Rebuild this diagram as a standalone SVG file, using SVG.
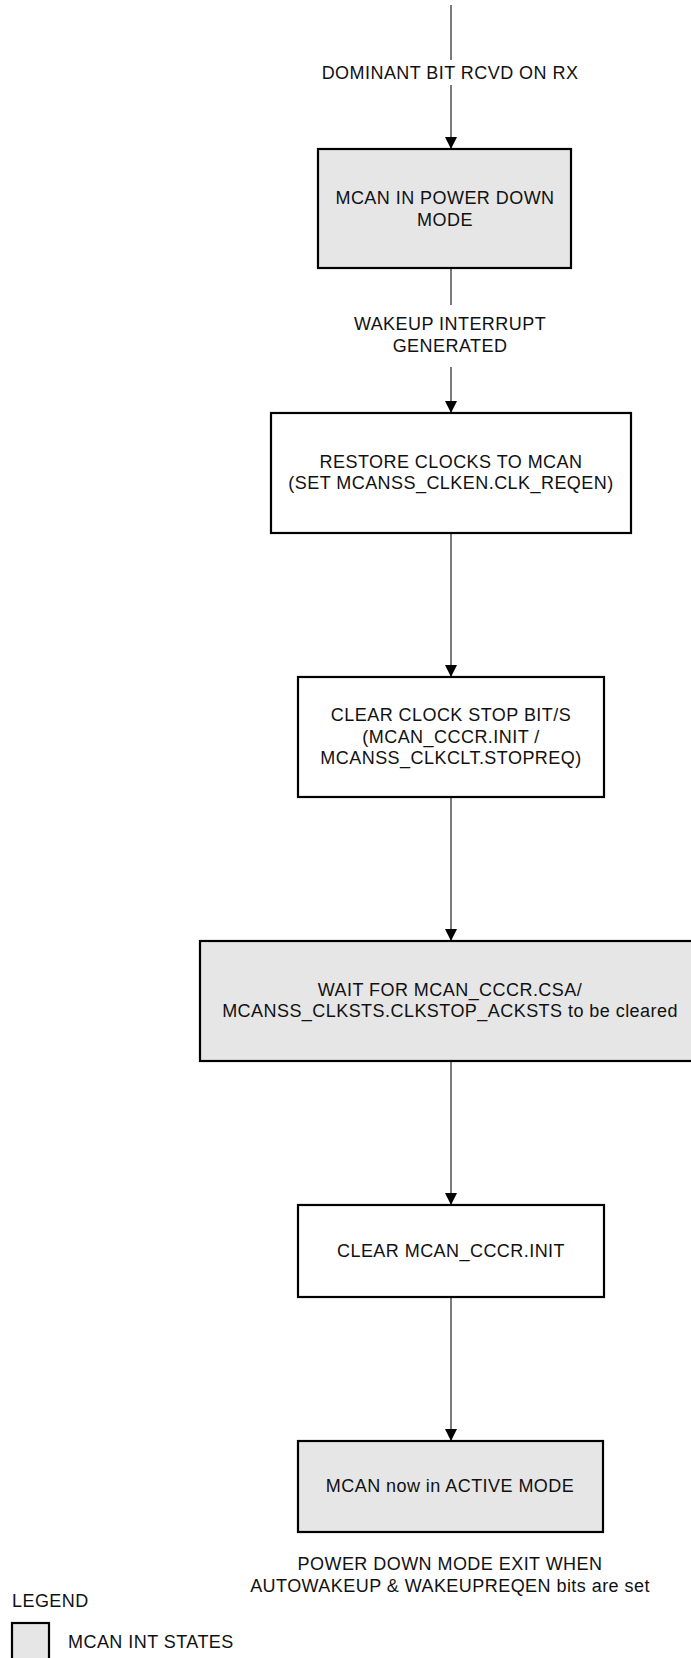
<svg xmlns="http://www.w3.org/2000/svg" width="691" height="1658" viewBox="0 0 691 1658">
<defs>
<style>
.box{stroke:#000;stroke-width:2.2}
.state{fill:#e6e6e6}
.step{fill:#fff}
.t{font-family:"Liberation Sans",Arial,sans-serif;font-size:18px;letter-spacing:0.45px;fill:#111;text-anchor:middle}
.l{text-anchor:start}
.c{stroke:#333;stroke-width:1.3;fill:none}
</style>
<marker id="arr" viewBox="0 0 12 12" refX="12" refY="6" markerWidth="12" markerHeight="12" markerUnits="userSpaceOnUse" orient="auto">
<path d="M0,0 L12,6 L0,12 Z" fill="#000"/>
</marker>
</defs>
<rect width="691" height="1658" fill="#fff"/>
<g id="connectors">
<line class="c" x1="451" y1="5" x2="451" y2="60"/>
<line class="c" x1="451" y1="85" x2="451" y2="149" marker-end="url(#arr)"/>
<line class="c" x1="451" y1="268" x2="451" y2="305"/>
<line class="c" x1="451" y1="367" x2="451" y2="413" marker-end="url(#arr)"/>
<line class="c" x1="451" y1="533" x2="451" y2="677" marker-end="url(#arr)"/>
<line class="c" x1="451" y1="797" x2="451" y2="941" marker-end="url(#arr)"/>
<line class="c" x1="451" y1="1061" x2="451" y2="1205" marker-end="url(#arr)"/>
<line class="c" x1="451" y1="1297" x2="451" y2="1441" marker-end="url(#arr)"/>
</g>
<g id="label-dominant">
<text class="t" x="450" y="79">DOMINANT BIT RCVD ON RX</text>
</g>
<g id="node-powerdown">
<rect class="box state" x="318" y="149" width="253" height="119"/>
<text class="t" x="445" y="204">MCAN IN POWER DOWN</text>
<text class="t" x="445" y="226">MODE</text>
</g>
<g id="label-wakeup">
<text class="t" x="450" y="330">WAKEUP INTERRUPT</text>
<text class="t" x="450" y="352">GENERATED</text>
</g>
<g id="node-restore">
<rect class="box step" x="271" y="413" width="360" height="120"/>
<text class="t" x="451" y="468">RESTORE CLOCKS TO MCAN</text>
<text class="t" x="451" y="489">(SET MCANSS_CLKEN.CLK_REQEN)</text>
</g>
<g id="node-clear-stop">
<rect class="box step" x="298" y="677" width="306" height="120"/>
<text class="t" x="451" y="721">CLEAR CLOCK STOP BIT/S</text>
<text class="t" x="451" y="743">(MCAN_CCCR.INIT /</text>
<text class="t" x="451" y="764">MCANSS_CLKCLT.STOPREQ)</text>
</g>
<g id="node-wait">
<rect class="box state" x="200" y="941" width="502" height="120"/>
<text class="t" x="450" y="996">WAIT FOR MCAN_CCCR.CSA/</text>
<text class="t" x="450" y="1017">MCANSS_CLKSTS.CLKSTOP_ACKSTS to be cleared</text>
</g>
<g id="node-clear-init">
<rect class="box step" x="298" y="1205" width="306" height="92"/>
<text class="t" x="451" y="1257">CLEAR MCAN_CCCR.INIT</text>
</g>
<g id="node-active">
<rect class="box state" x="298" y="1441" width="305" height="91"/>
<text class="t" x="450" y="1492">MCAN now in ACTIVE MODE</text>
</g>
<g id="label-exit">
<text class="t" x="450" y="1570">POWER DOWN MODE EXIT WHEN</text>
<text class="t" x="450" y="1592">AUTOWAKEUP &amp; WAKEUPREQEN bits are set</text>
</g>
<g id="legend">
<text class="t l" x="12" y="1607">LEGEND</text>
<rect class="box state" x="12" y="1623" width="37" height="50"/>
<text class="t l" x="68" y="1648">MCAN INT STATES</text>
</g>
</svg>
